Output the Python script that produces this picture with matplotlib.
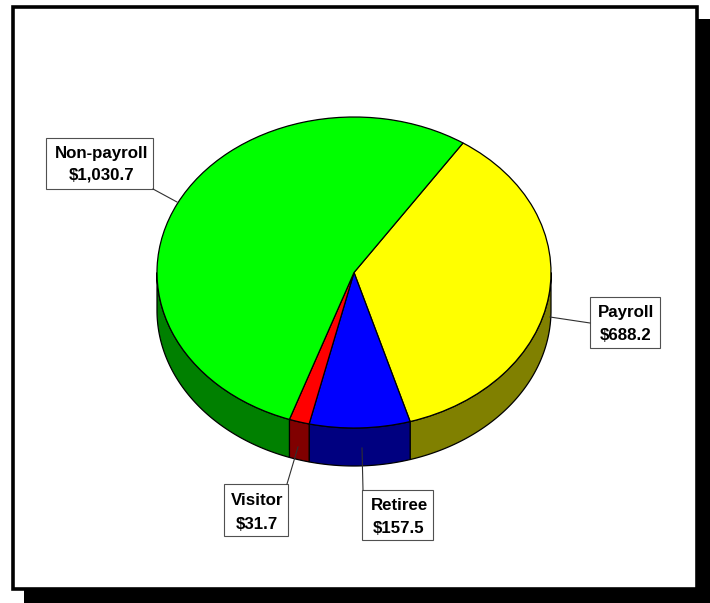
import numpy as np
import matplotlib
matplotlib.use("Agg")
import matplotlib.pyplot as plt
from matplotlib.patches import Rectangle

# ---- data ----
categories = ["Payroll", "Retiree", "Visitor", "Non-payroll"]
values = [688.2, 157.5, 31.7, 1030.7]
top_colors = ["#FFFF00", "#0000FF", "#FF0000", "#00FF00"]
side_colors = ["#808000", "#000080", "#800000", "#008000"]
start_angle = 56.4

W, H = 710, 603
fig = plt.figure(figsize=(W / 100, H / 100), dpi=100)

# background axes in pixel coordinates
bg = fig.add_axes([0, 0, 1, 1], zorder=0)
bg.set_xlim(0, W)
bg.set_ylim(H, 0)
bg.axis("off")
bg.add_patch(Rectangle((24, 19), W - 24 + 5, H - 19 + 5, facecolor="black", edgecolor="none"))
bg.add_patch(Rectangle((12.5, 7), 684, 582, facecolor="white", edgecolor="black", linewidth=2.6))

# pie axes: pixel -> data mapping
cx, cy, rx, ry = 354.0, 272.5, 197.0, 155.5
depth = 38.0 / ry
ax = fig.add_axes([0, 0, 1, 1], zorder=1)
ax.patch.set_alpha(0)

def to_data(px, py):
    return (px - cx) / rx, (cy - py) / ry

# side walls
fracs = np.array(values) / np.sum(values) * 360.0
hi_angles = start_angle - np.concatenate([[0], np.cumsum(fracs)[:-1]])
lo_angles = hi_angles - fracs
for lo, hi, col in zip(lo_angles, hi_angles, side_colors):
    for k in range(-2, 2):
        a = max(lo, -180 + 360 * k)
        b = min(hi, 360 * k)
        if b > a:
            t = np.radians(np.linspace(a, b, 100))
            xs = np.concatenate([np.cos(t), np.cos(t[::-1])])
            ys = np.concatenate([np.sin(t), np.sin(t[::-1]) - depth])
            ax.fill(xs, ys, facecolor=col, edgecolor="black", linewidth=0.9, zorder=1)

ax.pie(values, colors=top_colors, startangle=start_angle, counterclock=False,
       wedgeprops=dict(edgecolor="black", linewidth=0.9), radius=1.0)
for p in ax.patches:
    p.set_zorder(2)
ax.set_aspect("auto")
x0, y0 = to_data(0, H)
x1, y1 = to_data(W, 0)
ax.set_xlim(x0, x1)
ax.set_ylim(y0, y1)
ax.axis("off")

# foreground axes for labels (pixel coordinates)
fg = fig.add_axes([0, 0, 1, 1], zorder=2)
fg.patch.set_alpha(0)
fg.set_xlim(0, W)
fg.set_ylim(H, 0)
fg.axis("off")

label_layout = {
    "Non-payroll": dict(box=(46, 138, 153, 189), tx=102, b1=158, b2=180,
                        line=((153, 189), (177, 202))),
    "Payroll": dict(box=(590, 297, 660, 348), tx=626, b1=317, b2=340,
                    line=((590, 323), (550, 317))),
    "Visitor": dict(box=(224, 484, 288, 536), tx=257, b1=505, b2=529,
                    line=((287, 484), (298, 447))),
    "Retiree": dict(box=(362, 490, 433, 540), tx=399, b1=510, b2=533,
                    line=((363, 490), (362, 448))),
}
font = dict(family=["Liberation Sans", "DejaVu Sans"], fontweight="bold", fontsize=12.2)
for cat, val in zip(categories, values):
    L = label_layout[cat]
    bx0, by0, bx1, by1 = L["box"]
    fg.plot([L["line"][0][0], L["line"][1][0]], [L["line"][0][1], L["line"][1][1]],
            color="#303030", linewidth=0.8)
    fg.add_patch(Rectangle((bx0, by0), bx1 - bx0, by1 - by0, facecolor="white",
                           edgecolor="#505050", linewidth=0.8))
    fg.text(L["tx"], L["b1"], cat, ha="center", va="baseline", **font)
    fg.text(L["tx"], L["b2"], f"${val:,.1f}", ha="center", va="baseline", **font)

fig.savefig("out.png", dpi=100)
